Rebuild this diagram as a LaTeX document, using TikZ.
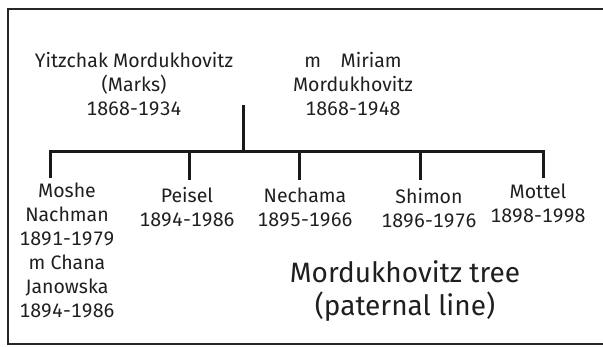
\documentclass[tikz,border=0pt]{standalone}
\usepackage{fontspec}
\setmainfont[Numbers=Monospaced]{Fira Sans}
\begin{document}
\begin{tikzpicture}[x=1pt,y=-1pt,
  txt/.style={inner sep=0pt,align=center,anchor=base,text=black!88,
    font={\fontsize{19.5}{24}\selectfont}},
  ttl/.style={inner sep=0pt,align=center,anchor=base,text=black!88,
    font={\fontsize{28}{33}\selectfont}},
  lnk/.style={line width=3pt,draw=black!90},
  frm/.style={line width=2.6pt,draw=black!85}]
\useasboundingbox (0,0) rectangle (603,346);
\draw[frm] (620,9) -- (8,9) -- (8,344) -- (620,344);
% parents (anchor = baseline of last line)
\node[txt] (yitz) at (134,115) {Yitzchak Mordukhovitz\\(Marks)\\1868-1934};
\node[txt] (miriam) at (353,115) {m\quad Miriam\\Mordukhovitz\\1868-1948};
% children
\node[txt] (moshe) at (67,317) {Moshe\\Nachman\\1891-1979\\m Chana\\Janowska\\1894-1986};
\node[txt] (peisel) at (187,226) {Peisel\\1894-1986};
\node[txt] (nechama) at (305,226) {Nechama\\1895-1966};
\node[txt] (shimon) at (429,227) {Shimon\\1896-1976};
\node[txt] (mottel) at (538,222) {Mottel\\1898-1998};
% title
\node[ttl] (title) at (405,315) {Mordukhovitz tree\\(paternal line)};
% connectors
\coordinate (pc) at (243,105);
\coordinate (pj) at (243,151);
\coordinate (b1) at (50,151);
\coordinate (b2) at (189,151);
\coordinate (b3) at (299,151);
\coordinate (b4) at (420,151);
\coordinate (b5) at (543,151);
\coordinate (d1) at (50,178);
\coordinate (d2) at (189,180);
\coordinate (d3) at (299,180);
\coordinate (d4) at (420,180);
\coordinate (d5) at (543,178);
\draw[lnk] (pc) -- (pj);
\draw[lnk,line cap=rect] (b1) -- (b5);
\draw[lnk] (b1) -- (d1);
\draw[lnk] (b2) -- (d2);
\draw[lnk] (b3) -- (d3);
\draw[lnk] (b4) -- (d4);
\draw[lnk] (b5) -- (d5);
\end{tikzpicture}
\end{document}
